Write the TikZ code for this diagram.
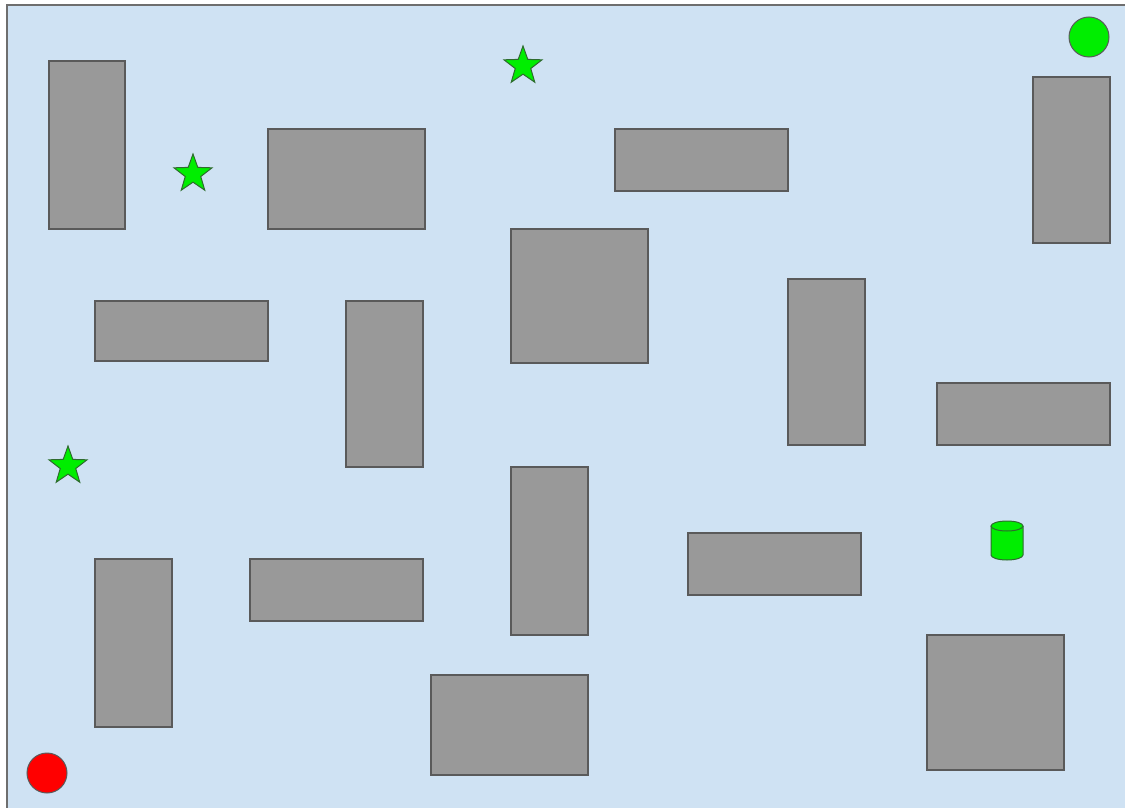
\documentclass[tikz,border=0pt]{standalone}
\usetikzlibrary{shapes.geometric}
\definecolor{floorblue}{HTML}{CFE2F3}
\definecolor{framegray}{HTML}{6E6E6E}
\definecolor{wallgray}{HTML}{999999}
\definecolor{walledge}{HTML}{5A5A5A}
\definecolor{goalgreen}{HTML}{00EE00}
\definecolor{greenedge}{HTML}{2E6B2E}
\definecolor{startred}{HTML}{FF0000}
\tikzset{
  wall/.style={draw=walledge, fill=wallgray, line width=1.3pt, inner sep=0pt, outer sep=0pt},
  goalstar/.style={star, star points=5, star point ratio=2.45, minimum size=40pt, inner sep=0pt, draw=greenedge, fill=goalgreen, line width=1pt},
  disc/.style={circle, minimum size=40pt, inner sep=0pt, draw=walledge, line width=1pt},
}
\begin{document}
\begin{tikzpicture}[x=1pt,y=-1pt]
\useasboundingbox (0,0) rectangle (1125,808);
\begin{scope}
\clip (0,0) rectangle (1125,808);
\draw[draw=framegray, fill=floorblue, line width=2pt] (7,5) rectangle (1140,820);
\end{scope}
% walls
\node[wall, minimum width=76pt, minimum height=168pt] (w1) at (87,145) {};
\node[wall, minimum width=157pt, minimum height=100pt] (w2) at (346.5,179) {};
\node[wall, minimum width=173pt, minimum height=62pt] (w3) at (701.5,160) {};
\node[wall, minimum width=77pt, minimum height=166pt] (w4) at (1071.5,160) {};
\node[wall, minimum width=137pt, minimum height=134pt] (w5) at (579.5,296) {};
\node[wall, minimum width=173pt, minimum height=60pt] (w6) at (181.5,331) {};
\node[wall, minimum width=77pt, minimum height=166pt] (w7) at (384.5,384) {};
\node[wall, minimum width=77pt, minimum height=166pt] (w8) at (826.5,362) {};
\node[wall, minimum width=173pt, minimum height=62pt] (w9) at (1023.5,414) {};
\node[wall, minimum width=77pt, minimum height=168pt] (w10) at (549.5,551) {};
\node[wall, minimum width=77pt, minimum height=168pt] (w11) at (133.5,643) {};
\node[wall, minimum width=173pt, minimum height=62pt] (w12) at (336.5,590) {};
\node[wall, minimum width=173pt, minimum height=62pt] (w13) at (774.5,564) {};
\node[wall, minimum width=157pt, minimum height=100pt] (w14) at (509.5,725) {};
\node[wall, minimum width=137pt, minimum height=135pt] (w15) at (995.5,702.5) {};
% stars
\node[goalstar] (s1) at (523,66) {};
\node[goalstar] (s2) at (193,174) {};
\node[goalstar] (s3) at (68,466) {};
% circles
\node[disc, fill=goalgreen] (goal) at (1089,37) {};
\node[disc, fill=startred] (start) at (47,773) {};
% cylinder
\coordinate (cyl) at (1007,540);
\fill[goalgreen] (991,526) -- (991,555) arc[start angle=180, end angle=0, x radius=16, y radius=5] -- (1023,526) -- cycle;
\draw[greenedge, line width=1pt] (991,526) -- (991,555) arc[start angle=180, end angle=0, x radius=16, y radius=5] -- (1023,526);
\draw[greenedge, fill=goalgreen, line width=1pt] (1007,526) ellipse[x radius=16, y radius=5];
\end{tikzpicture}
\end{document}
